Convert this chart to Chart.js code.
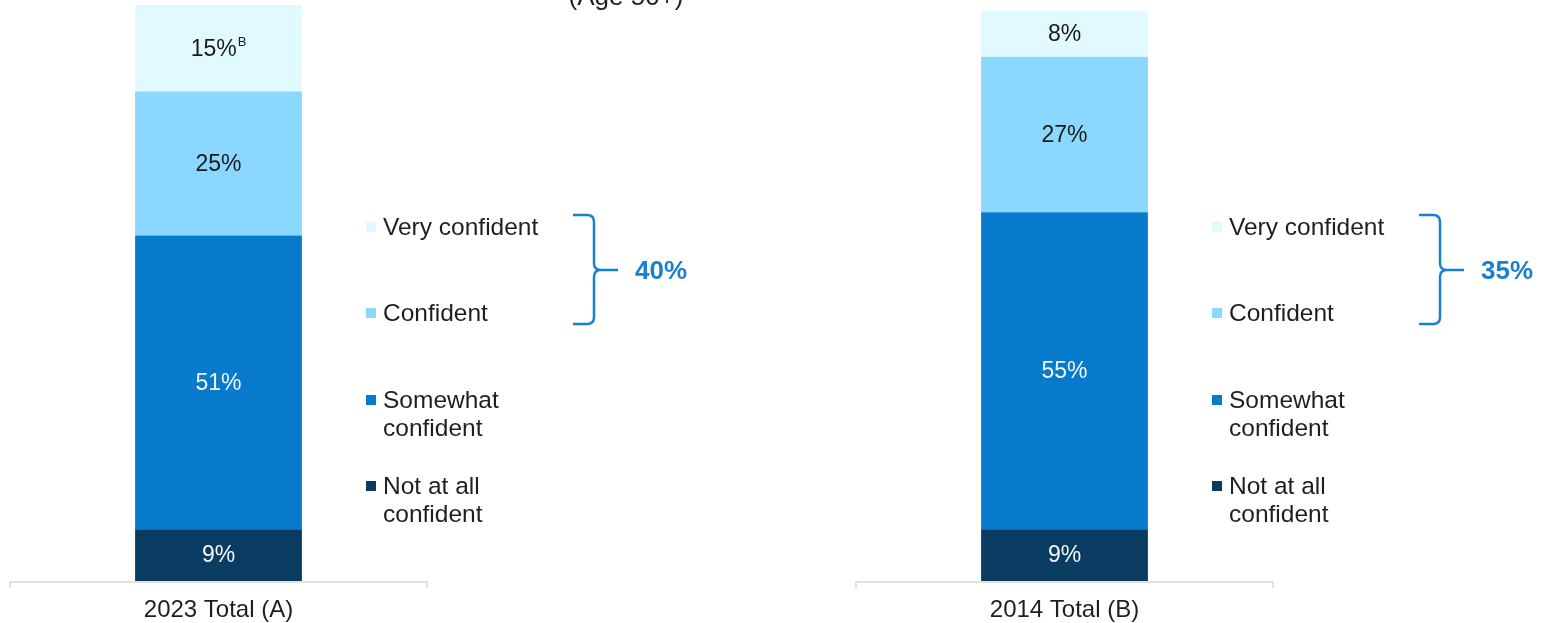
<!DOCTYPE html>
<html>
<head>
<meta charset="utf-8">
<script src="https://cdn.jsdelivr.net/npm/chart.js"></script>
<style>
  body { margin: 0; background: #fff; width: 1549px; height: 623px; overflow: hidden; position: relative; }
  .box { position: absolute; top: 0; width: 700px; height: 623px; }
</style>
</head>
<body>
<div class="box" style="left: 0px;"><canvas id="chartA"></canvas></div>
<div class="box" style="left: 846px;"><canvas id="chartB"></canvas></div>
<script>
// segments, bottom to top of the stack
const segments = ['Not at all confident', 'Somewhat confident', 'Confident', 'Very confident'];
const legendLines = [['Not at all', 'confident'], ['Somewhat', 'confident'], ['Confident'], ['Very confident']];
const colors = ['#0A3C62', '#077ACB', '#8AD8FF', '#E0FAFF'];
const labelColors = ['#F4F4F4', '#F4F4F4', '#1A1A1A', '#1A1A1A'];

const values2023 = [9, 51, 25, 15];
const values2014 = [9, 55, 27, 8];
const sig2023 = ['', '', '', 'B'];
const sig2014 = ['', '', '', ''];
const netConfident = [40, 35];   // very confident + confident, as printed
const totals = ['2023 Total (A)', '2014 Total (B)'];
const subtitle = '(Age 50+)';

const FONT = '"Liberation Sans", Arial, sans-serif';
const TEXT = '#1F1F1F';
const BLUE = '#1B7FD1';

function decorPlugin(idx, sig, showTitle) {
  return {
    id: 'decor' + idx,
    afterDatasetsDraw(chart) {
      const ctx = chart.ctx;
      const area = chart.chartArea;
      const xs = chart.scales.x;
      ctx.save();

      // value labels in each segment
      chart.data.datasets.forEach((ds, i) => {
        const bar = chart.getDatasetMeta(i).data[0];
        const cy = (bar.y + bar.base) / 2;
        const main = ds.data[0] + '%';
        ctx.font = '23px ' + FONT;
        const w1 = ctx.measureText(main).width;
        let w2 = 0;
        if (sig[i]) {
          ctx.font = '13px ' + FONT;
          w2 = ctx.measureText(sig[i]).width + 1;
        }
        const x0 = bar.x - (w1 + w2) / 2;
        ctx.fillStyle = labelColors[i];
        ctx.textAlign = 'left';
        ctx.textBaseline = 'middle';
        ctx.font = '23px ' + FONT;
        ctx.fillText(main, x0, cy + 1);
        if (sig[i]) {
          ctx.font = '13px ' + FONT;
          ctx.fillText(sig[i], x0 + w1 + 1, cy - 6);
        }
      });

      // axis line with end ticks
      const ay = area.bottom + 1;
      ctx.strokeStyle = '#D9D9D9';
      ctx.lineWidth = 1.5;
      ctx.beginPath();
      ctx.moveTo(area.left, ay + 6);
      ctx.lineTo(area.left, ay);
      ctx.lineTo(area.right, ay);
      ctx.lineTo(area.right, ay + 6);
      ctx.stroke();

      // category label
      ctx.fillStyle = TEXT;
      ctx.font = '24px ' + FONT;
      ctx.textAlign = 'center';
      ctx.textBaseline = 'alphabetic';
      ctx.fillText(chart.data.labels[0], xs.getPixelForValue(0), 617);

      // legend, top item first
      const lx = 366;
      let ly = 227;
      const steps = [86, 87, 86];
      ctx.textAlign = 'left';
      ctx.textBaseline = 'middle';
      for (let k = segments.length - 1, n = 0; k >= 0; k--, n++) {
        ctx.fillStyle = colors[k];
        ctx.fillRect(lx, ly - 5, 10, 10);
        ctx.fillStyle = TEXT;
        ctx.font = '24.5px ' + FONT;
        legendLines[k].forEach((t, j) => ctx.fillText(t, lx + 17, ly + 1 + j * 28));
        ly += steps[n] || 0;
      }

      // curly bracket grouping the top two
      const top = 215, bot = 324, mid = 270;
      const xe = 573, xv = 594, xt = 618;
      ctx.strokeStyle = BLUE;
      ctx.lineWidth = 2.5;
      ctx.lineJoin = 'round';
      ctx.beginPath();
      ctx.moveTo(xe, top);
      ctx.lineTo(xv - 7, top);
      ctx.quadraticCurveTo(xv, top, xv, top + 7);
      ctx.lineTo(xv, mid - 7);
      ctx.quadraticCurveTo(xv, mid, xv + 7, mid);
      ctx.lineTo(xt, mid);
      ctx.moveTo(xv + 7, mid);
      ctx.quadraticCurveTo(xv, mid, xv, mid + 7);
      ctx.lineTo(xv, bot - 7);
      ctx.quadraticCurveTo(xv, bot, xv - 7, bot);
      ctx.lineTo(xe, bot);
      ctx.stroke();

      ctx.fillStyle = BLUE;
      ctx.font = 'bold 26px ' + FONT;
      ctx.textAlign = 'left';
      ctx.fillText(netConfident[idx] + '%', 635, mid + 2);

      if (showTitle) {
        ctx.fillStyle = TEXT;
        ctx.font = '26px ' + FONT;
        ctx.textAlign = 'center';
        ctx.textBaseline = 'alphabetic';
        ctx.fillText(subtitle, 626, 5);
      }
      ctx.restore();
    }
  };
}

function makeChart(id, idx, values, sig, showTitle) {
  return new Chart(document.getElementById(id), {
    type: 'bar',
    data: {
      labels: [totals[idx]],
      datasets: segments.map((name, i) => ({
        label: name,
        data: [values[i]],
        backgroundColor: colors[i],
        borderWidth: 0,
        categoryPercentage: 1,
        barPercentage: 0.4
      }))
    },
    options: {
      responsive: true,
      maintainAspectRatio: false,
      animation: false,
      layout: { padding: { top: 5, bottom: 42, left: 10, right: 273 } },
      plugins: { legend: { display: false }, tooltip: { enabled: false }, title: { display: false } },
      scales: {
        x: { stacked: true, display: false },
        y: { stacked: true, display: false, min: 0, max: 100 }
      }
    },
    plugins: [decorPlugin(idx, sig, showTitle)]
  });
}

makeChart('chartA', 0, values2023, sig2023, true);
makeChart('chartB', 1, values2014, sig2014, false);
</script>
</body>
</html>
